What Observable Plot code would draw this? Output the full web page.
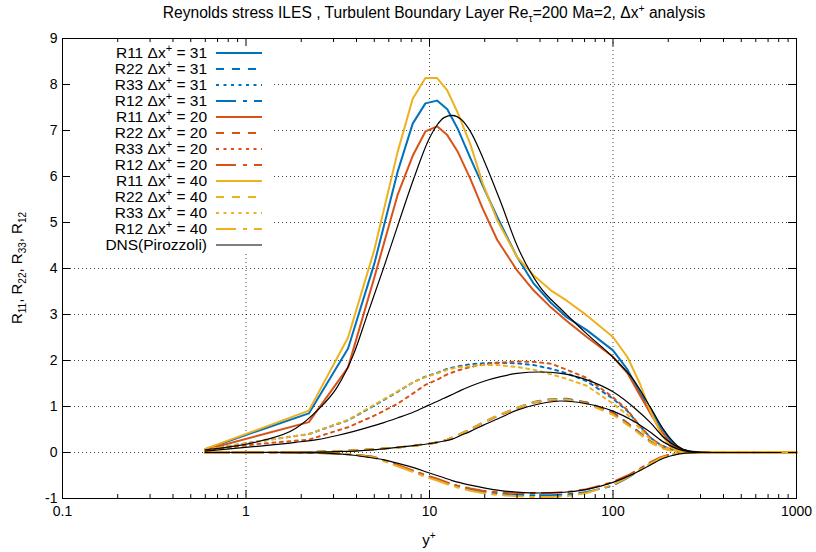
<!DOCTYPE html>
<html><head><meta charset="utf-8">
<script src="https://cdn.jsdelivr.net/npm/d3@7"></script>
<script src="https://cdn.jsdelivr.net/npm/@observablehq/plot@0.6"></script>
<style>
body{margin:0;background:#fff}
#chart svg{font-family:"Liberation Sans",Arial,Helvetica,sans-serif}
</style>
</head><body><div id="chart"></div>
<script>
// ---------------- data ----------------
const xTicks = [0.1, 1, 10, 100, 1000];
const yTicks = [-1, 0, 1, 2, 3, 4, 5, 6, 7, 8, 9];

// ILES wall-normal positions (y+)
const yIles = [0.6, 1.2, 2.2, 3.6, 5.0, 6.7, 8.1, 9.5, 11, 12.5, 14.2, 16.7, 19.5, 23.4, 30, 37, 46, 56, 72, 100, 120, 140, 160, 182, 206, 230, 260, 300, 400, 600, 800, 1000];

// dx+ = 31
const r11_31 = [0.07, 0.49, 0.85, 2.26, 4.1, 6.1, 7.15, 7.59, 7.65, 7.46, 7.05, 6.4, 5.8, 5.12, 4.25, 3.67, 3.25, 2.94, 2.66, 2.22, 1.8, 1.3, 0.95, 0.55, 0.25, 0.08, 0.02, 0.005, 0, 0, 0, 0];
const r22_31 = [0, 0.003, 0.01, 0.04, 0.07, 0.11, 0.14, 0.18, 0.22, 0.28, 0.37, 0.51, 0.65, 0.8, 0.97, 1.1, 1.16, 1.17, 1.09, 0.87, 0.64, 0.43, 0.24, 0.12, 0.05, 0.02, 0.005, 0, 0, 0, 0, 0];
const r33_31 = [0.06, 0.25, 0.40, 0.70, 1.02, 1.32, 1.52, 1.65, 1.73, 1.82, 1.87, 1.92, 1.94, 1.95, 1.94, 1.90, 1.82, 1.72, 1.55, 1.17, 0.9, 0.58, 0.32, 0.16, 0.07, 0.02, 0.005, 0, 0, 0, 0, 0];
const r12_31 = [0, 0, -0.005, -0.03, -0.1, -0.28, -0.4, -0.5, -0.58, -0.66, -0.73, -0.8, -0.85, -0.89, -0.92, -0.93, -0.93, -0.91, -0.86, -0.72, -0.55, -0.38, -0.24, -0.12, -0.05, -0.02, -0.005, 0, 0, 0, 0, 0];

// dx+ = 20
const r11_20 = [0.06, 0.38, 0.66, 1.85, 3.8, 5.6, 6.45, 6.98, 7.09, 6.9, 6.55, 5.95, 5.3, 4.62, 3.96, 3.52, 3.15, 2.86, 2.51, 2.08, 1.72, 1.25, 0.85, 0.48, 0.19, 0.06, 0.015, 0, 0, 0, 0, 0];
const r22_20 = [0, 0.003, 0.01, 0.04, 0.07, 0.11, 0.14, 0.18, 0.22, 0.28, 0.37, 0.5, 0.64, 0.79, 0.96, 1.08, 1.14, 1.15, 1.08, 0.86, 0.63, 0.42, 0.23, 0.11, 0.05, 0.02, 0.005, 0, 0, 0, 0, 0];
const r33_20 = [0.05, 0.19, 0.28, 0.55, 0.80, 1.06, 1.28, 1.47, 1.58, 1.70, 1.78, 1.86, 1.91, 1.95, 1.98, 1.97, 1.93, 1.80, 1.62, 1.20, 0.92, 0.58, 0.32, 0.16, 0.07, 0.02, 0.005, 0, 0, 0, 0, 0];
const r12_20 = [0, 0, -0.005, -0.03, -0.1, -0.27, -0.39, -0.49, -0.57, -0.65, -0.72, -0.78, -0.83, -0.86, -0.88, -0.88, -0.88, -0.86, -0.8, -0.64, -0.5, -0.35, -0.21, -0.1, -0.04, -0.015, -0.005, 0, 0, 0, 0, 0];

// dx+ = 40
const r11_40 = [0.08, 0.52, 0.91, 2.5, 4.4, 6.53, 7.69, 8.14, 8.14, 7.87, 7.4, 6.7, 5.85, 5.05, 4.25, 3.85, 3.52, 3.30, 2.98, 2.51, 2.07, 1.5, 0.9, 0.42, 0.12, 0.04, 0.01, 0, 0, 0, 0, 0];
const r22_40 = [0, 0.003, 0.01, 0.04, 0.07, 0.11, 0.14, 0.18, 0.22, 0.28, 0.37, 0.51, 0.65, 0.8, 0.97, 1.09, 1.15, 1.15, 1.06, 0.82, 0.6, 0.4, 0.22, 0.1, 0.04, 0.015, 0.005, 0, 0, 0, 0, 0];
const r33_40 = [0.06, 0.25, 0.40, 0.71, 1.04, 1.33, 1.52, 1.64, 1.72, 1.80, 1.85, 1.88, 1.90, 1.90, 1.86, 1.80, 1.70, 1.60, 1.45, 1.06, 0.82, 0.52, 0.28, 0.14, 0.06, 0.02, 0.005, 0, 0, 0, 0, 0];
const r12_40 = [0, 0, -0.005, -0.03, -0.11, -0.3, -0.42, -0.53, -0.61, -0.69, -0.76, -0.83, -0.88, -0.92, -0.95, -0.97, -0.97, -0.95, -0.88, -0.7, -0.54, -0.38, -0.24, -0.12, -0.05, -0.02, -0.005, 0, 0, 0, 0, 0];

// DNS (Pirozzoli)
const yDns = [0.6, 1.2, 1.86, 2.44, 3.14, 3.87, 4.57, 5.64, 6.67, 8.2, 9.9, 11, 12, 13.3, 14.8, 16.7, 19.8, 24.4, 30, 40, 52, 72, 100, 130, 160, 190, 224, 260, 300, 400, 600, 820];
const dns_r11 = [0.06, 0.25, 0.52, 0.91, 1.42, 2.15, 2.98, 4.03, 4.9, 5.95, 6.8, 7.12, 7.28, 7.33, 7.25, 6.98, 6.35, 5.45, 4.5, 3.6, 3.12, 2.58, 2.07, 1.57, 0.98, 0.48, 0.15, 0.03, 0.005, 0, 0, 0];
const dns_r22 = [0, 0.002, 0.005, 0.01, 0.02, 0.03, 0.05, 0.08, 0.11, 0.15, 0.19, 0.22, 0.25, 0.29, 0.37, 0.46, 0.6, 0.76, 0.92, 1.06, 1.12, 1.06, 0.9, 0.68, 0.44, 0.22, 0.08, 0.02, 0.005, 0, 0, 0];
const dns_r33 = [0.03, 0.14, 0.22, 0.28, 0.37, 0.46, 0.54, 0.65, 0.75, 0.88, 1.03, 1.11, 1.18, 1.26, 1.35, 1.44, 1.55, 1.65, 1.72, 1.75, 1.72, 1.58, 1.32, 0.98, 0.65, 0.32, 0.12, 0.03, 0.005, 0, 0, 0];
const dns_r12 = [0, 0, -0.005, -0.01, -0.03, -0.06, -0.1, -0.16, -0.23, -0.33, -0.44, -0.5, -0.55, -0.61, -0.66, -0.71, -0.77, -0.83, -0.86, -0.88, -0.87, -0.8, -0.65, -0.46, -0.27, -0.12, -0.04, -0.01, 0, 0, 0, 0];

// ---------------- styles ----------------
const blue = "#0072bd", red = "#d95319", yellow = "#edb120";
const dashOf = {R11: null, R22: "8,8", R33: "3,4.5", R12: "20,7,4,7"};

const series = [
  {comp: "R11", dx: "31", color: blue, ys: yIles, vals: r11_31},
  {comp: "R22", dx: "31", color: blue, ys: yIles, vals: r22_31},
  {comp: "R33", dx: "31", color: blue, ys: yIles, vals: r33_31},
  {comp: "R12", dx: "31", color: blue, ys: yIles, vals: r12_31},
  {comp: "R11", dx: "20", color: red, ys: yIles, vals: r11_20},
  {comp: "R22", dx: "20", color: red, ys: yIles, vals: r22_20},
  {comp: "R33", dx: "20", color: red, ys: yIles, vals: r33_20},
  {comp: "R12", dx: "20", color: red, ys: yIles, vals: r12_20},
  {comp: "R11", dx: "40", color: yellow, ys: yIles, vals: r11_40},
  {comp: "R22", dx: "40", color: yellow, ys: yIles, vals: r22_40},
  {comp: "R33", dx: "40", color: yellow, ys: yIles, vals: r33_40},
  {comp: "R12", dx: "40", color: yellow, ys: yIles, vals: r12_40}
];
const dnsSeries = [dns_r11, dns_r22, dns_r33, dns_r12];

const W = 816, H = 552;
const mL = 62, mR = 20, mT = 38, mB = 54;
const pw = W - mL - mR, ph = H - mT - mB;

const xMinor = [];
for (const dec of [0.1, 1, 10, 100]) for (let k = 2; k <= 9; k++) xMinor.push(+(dec * k).toPrecision(3));

const marks = [
  Plot.gridX(xTicks.slice(1, -1), {stroke: "#000", strokeOpacity: 0.75, strokeDasharray: "1,3"}),
  Plot.gridY(yTicks.slice(1, -1), {stroke: "#000", strokeOpacity: 0.75, strokeDasharray: "1,3"})
];
for (const s of series) {
  const data = s.ys.map((y, i) => ({y, v: s.vals[i]}));
  marks.push(Plot.line(data, {x: "y", y: "v", stroke: s.color, strokeWidth: 2,
    strokeDasharray: dashOf[s.comp] || undefined, curve: "linear"}));
}
for (const vals of dnsSeries) {
  const data = yDns.map((y, i) => ({y, v: vals[i]}));
  marks.push(Plot.line(data, {x: "y", y: "v", stroke: "#000", strokeWidth: 1.2, curve: "monotone-x"}));
}
marks.push(
  Plot.frame({stroke: "#000", strokeWidth: 1}),
  Plot.ruleX(xTicks, {x: d => d, insetTop: ph - 8, stroke: "#000"}),
  Plot.ruleX(xTicks, {x: d => d, insetBottom: ph - 8, stroke: "#000"}),
  Plot.ruleX(xMinor, {x: d => d, insetTop: ph - 4, stroke: "#000"}),
  Plot.ruleX(xMinor, {x: d => d, insetBottom: ph - 4, stroke: "#000"}),
  Plot.ruleY(yTicks, {y: d => d, insetRight: pw - 8, stroke: "#000"}),
  Plot.ruleY(yTicks, {y: d => d, insetLeft: pw - 8, stroke: "#000"}),
  Plot.axisX(xTicks, {tickSize: 0, tickPadding: 8, label: null, tickFormat: d => String(d), fontSize: 14}),
  Plot.axisY(yTicks, {tickSize: 0, tickPadding: 5, label: null, tickFormat: d => String(d), fontSize: 14})
);

const chart = Plot.plot({
  width: W, height: H,
  marginLeft: mL, marginRight: mR, marginTop: mT, marginBottom: mB,
  x: {type: "log", domain: [0.1, 1000]},
  y: {domain: [-1, 9]},
  style: {background: "#fff", color: "#000", fontFamily: "'Liberation Sans', Arial, sans-serif", fontSize: "14px"},
  marks
});
document.getElementById("chart").appendChild(chart);

// ---------------- annotations: title, axis labels, legend ----------------
const svg = d3.select(chart);
const FONT = "'Liberation Sans', Arial, sans-serif";

// legend background (under the curves, over the grid)
const firstLine = chart.querySelector('g[aria-label="line"]');
const bg = document.createElementNS("http://www.w3.org/2000/svg", "rect");
bg.setAttribute("x", mL + 0.5); bg.setAttribute("y", mT + 0.5);
bg.setAttribute("width", 210); bg.setAttribute("height", 214);
bg.setAttribute("fill", "#fff");
firstLine.parentNode.insertBefore(bg, firstLine);

// title
const title = svg.append("text").attr("x", 434).attr("y", 18).attr("text-anchor", "middle")
  .attr("font-family", FONT).attr("font-size", 15.6).attr("fill", "#000");
title.append("tspan").text("Reynolds stress ILES , Turbulent Boundary Layer Re");
title.append("tspan").attr("dy", 4).attr("font-size", 10.5).text("τ");
title.append("tspan").attr("dy", -4).text("=200 Ma=2, Δx");
title.append("tspan").attr("dy", -6).attr("font-size", 10.5).text("+");
title.append("tspan").attr("dy", 6).text(" analysis");

// x label
const xl = svg.append("text").attr("x", 429).attr("y", 545).attr("text-anchor", "middle")
  .attr("font-family", FONT).attr("font-size", 15).attr("fill", "#000");
xl.append("tspan").text("y");
xl.append("tspan").attr("dy", -6).attr("font-size", 10).text("+");

// y label
const yl = svg.append("text").attr("transform", "translate(22,268) rotate(-90)").attr("text-anchor", "middle")
  .attr("font-family", FONT).attr("font-size", 15).attr("fill", "#000");
const subs = ["11", "22", "33", "12"];
subs.forEach((s, i) => {
  yl.append("tspan").attr("dy", i === 0 ? 0 : -4).text((i === 0 ? "" : ", ") + "R");
  yl.append("tspan").attr("dy", 4).attr("font-size", 10).text(s);
});

// legend
const legendRows = series.map(s => ({comp: s.comp, dx: s.dx, color: s.color, dash: dashOf[s.comp], w: 2}));
legendRows.push({text: "DNS(Pirozzoli)", color: "#000", dash: null, w: 1.2});
legendRows.forEach((r, i) => {
  const cy = 53 + 16 * i;
  const t = svg.append("text").attr("x", 207).attr("y", cy + 5).attr("text-anchor", "end")
    .attr("font-family", FONT).attr("font-size", 15.5).attr("fill", "#000");
  if (r.text) t.text(r.text);
  else {
    t.append("tspan").text(r.comp + " Δx");
    t.append("tspan").attr("dy", -6).attr("font-size", 11).text("+");
    t.append("tspan").attr("dy", 6).text(" = " + r.dx);
  }
  const ln = svg.append("line").attr("x1", 216).attr("x2", 262).attr("y1", cy).attr("y2", cy)
    .attr("stroke", r.color).attr("stroke-width", r.w);
  if (r.dash) ln.attr("stroke-dasharray", r.dash);
});
</script>
</body></html>
